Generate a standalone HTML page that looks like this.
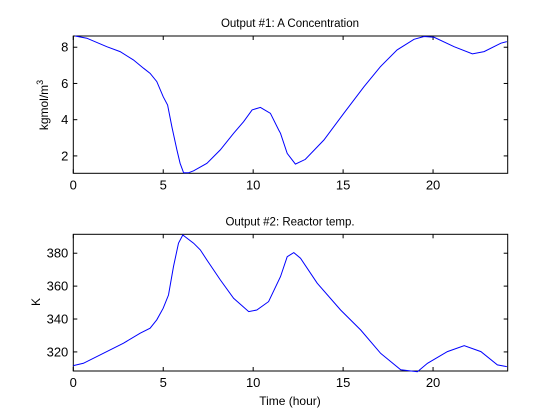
<!DOCTYPE html>
<html><head><meta charset="utf-8"><style>
html,body{margin:0;padding:0;background:#fff;}
svg{display:block;font-family:"Liberation Sans",Arial,sans-serif;}
</style></head><body>
<svg id="fig" width="560" height="420" viewBox="0 0 560 420"></svg>
<script>
const topT=[0.1,0.75,1.86,2.6,3.34,3.9,4.27,4.64,5.0,5.24,5.48,5.76,5.94,6.13,6.4,6.69,7.43,8.17,8.91,9.47,9.94,10.4,10.96,11.42,11.52,11.89,12.35,12.9,13.93,15.04,16.16,17.08,18.0,18.94,19.5,20.06,21.17,22.19,22.84,23.77,24.1];
const topA=[8.62,8.5,8.03,7.76,7.3,6.84,6.56,6.1,5.27,4.81,3.6,2.33,1.59,1.07,1.07,1.18,1.59,2.33,3.25,3.89,4.54,4.68,4.35,3.43,3.25,2.14,1.55,1.81,2.88,4.35,5.82,6.93,7.85,8.44,8.59,8.55,8.03,7.63,7.76,8.22,8.31];
const botT=[0,0.56,1.49,2.79,3.72,4.27,4.64,5.0,5.29,5.57,5.85,6.09,6.69,7.06,7.43,8.17,8.91,9.75,10.2,10.86,11.52,11.89,12.26,12.63,13.56,14.86,15.97,17.08,18.2,19.13,19.69,20.8,21.73,22.66,23.58,24.1];
const botK=[311.7,313.1,318.2,325.3,331.4,334.4,339.5,346.6,354.6,371.9,386.1,391.1,386.1,382,375.9,363.8,352.6,344.5,345.5,350.6,365.8,377.9,380.4,377,361.8,345.5,333.4,319.2,309.1,308,313.1,320.2,323.8,320.2,312.1,311.1];
const xTicks=[0,5,10,15,20];
const topYTicks=[2,4,6,8];
const botYTicks=[320,340,360,380];

const NS="http://www.w3.org/2000/svg";
const svg=document.getElementById('fig');
function mk(tag,attrs,parent){const e=document.createElementNS(NS,tag);for(const k in attrs)e.setAttribute(k,attrs[k]);(parent||svg).appendChild(e);return e;}

function panel(cfg){
  const L=73.3,R=507.7,T=cfg.top,B=cfg.bottom;
  const xs=v=>L+(v-0)/(24.15-0)*(R-L);
  const ys=v=>B-(v-cfg.ymin)/(cfg.ymax-cfg.ymin)*(B-T);
  const g=mk('g',{});
  
  
  const box=mk('rect',{x:L,y:T,width:R-L,height:B-T,fill:'#fff',stroke:'#000','stroke-width':1},g);
  
  
  xTicks.forEach(v=>{
    const x=xs(v);
    mk('line',{x1:x,y1:B,x2:x,y2:B-4,stroke:'#000'},g);
    mk('line',{x1:x,y1:T,x2:x,y2:T+4,stroke:'#000'},g);
    const t=mk('text',{x:x,y:B+16,'font-size':13,'text-anchor':'middle'},g);
    t.textContent=v;
    
    
  });
  cfg.yticks.forEach(v=>{
    const y=ys(v);
    mk('line',{x1:L,y1:y,x2:L+4,y2:y,stroke:'#000'},g);
    mk('line',{x1:R,y1:y,x2:R-4,y2:y,stroke:'#000'},g);
    const t=mk('text',{x:L-5,y:y+4.5,'font-size':13,'text-anchor':'end'},g);
    t.textContent=v;
    
    
  });
  const d=cfg.xs.map((v,i)=>(i?'L':'M')+xs(v).toFixed(1)+' '+ys(cfg.ys[i]).toFixed(1)).join(' ');
  const p=mk('path',{d:d,fill:'none',stroke:'#0000ff','stroke-width':1},g);
  
  
  const ti=mk('text',{x:290,y:T-9,'font-size':11.5,'text-anchor':'middle'},g);
  ti.textContent=cfg.title;
  
  
  return g;
}
panel({name:'concentration-panel',lineName:'concentration-line',top:36,bottom:173.3,ymin:1.04,ymax:8.62,yticks:topYTicks,xs:topT,ys:topA,title:'Output #1: A Concentration'});
panel({name:'temperature-panel',lineName:'temperature-line',top:234.3,bottom:371,ymin:308.4,ymax:391.5,yticks:botYTicks,xs:botT,ys:botK,title:'Output #2: Reactor temp.'});

const yl1=mk('text',{x:0,y:0,'font-size':12,'text-anchor':'middle',transform:'translate(48,105) rotate(-90)'});
yl1.innerHTML='kgmol/m<tspan dy="-5" font-size="9">3</tspan>';


const yl2=mk('text',{x:0,y:0,'font-size':12,'text-anchor':'middle',transform:'translate(40,302) rotate(-90)'});
yl2.textContent='K';


const xl=mk('text',{x:290,y:405,'font-size':12,'text-anchor':'middle'});
xl.textContent='Time (hour)';


</script>
</body></html>
